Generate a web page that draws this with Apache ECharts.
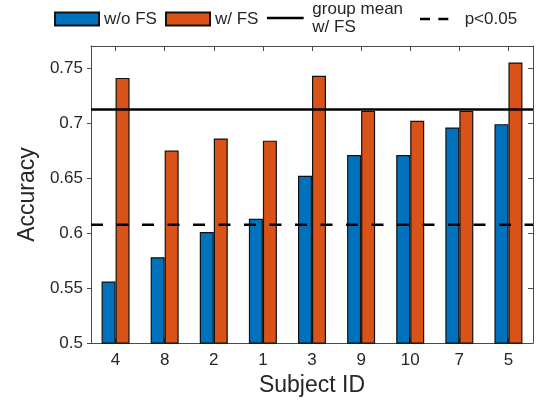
<!DOCTYPE html>
<html>
<head>
<meta charset="utf-8">
<script src="https://cdn.jsdelivr.net/npm/echarts@6/dist/echarts.min.js"></script>
<style>html,body{margin:0;padding:0;background:#fff;}#c{width:546px;height:402px;}</style>
</head>
<body>
<div id="c"></div>
<script>
const subjects = ['4', '8', '2', '1', '3', '9', '10', '7', '5'];
const withoutFS = [0.556, 0.578, 0.601, 0.613, 0.652, 0.671, 0.671, 0.696, 0.699];
const withFS = [0.741, 0.675, 0.686, 0.684, 0.743, 0.711, 0.702, 0.711, 0.755];
const groupMean = 0.7122;
const pThreshold = 0.6075;
const yTicks = [0.5, 0.77, 0.05]; // min, max, interval

const FONT = "'Liberation Sans', Arial, Helvetica, sans-serif";
const TXT = '#262626';
const AX = '#4a4a4a';

const chart = echarts.init(document.getElementById('c'), null, {renderer: 'canvas'});

function legendAt(name, left, top, opts) {
  return Object.assign({
    data: [name], left: left, top: top, orient: 'horizontal',
    itemWidth: 44, itemHeight: 13, itemGap: 0, padding: 0,
    selectedMode: false,
    textStyle: {fontFamily: FONT, fontSize: 17, color: TXT, lineHeight: 18}
  }, opts || {});
}

chart.setOption({
  animation: false,
  backgroundColor: '#fff',
  grid: {left: 91, right: 13, top: 46, bottom: 57, show: false},
  legend: [
    legendAt('w/o FS', 54, 10, {icon: 'rect'}),
    legendAt('w/ FS', 165, 10, {icon: 'rect'}),
    legendAt('group mean\nw/ FS', 267, 0, {icon: 'path://M0,0H44V3H0Z', itemHeight: 2.5}),
    legendAt('p<0.05', 420, 10, {icon: 'path://M0,0H12V3H0Z M22,0H34V3H22Z', itemWidth: 33, itemHeight: 2.5,
      textStyle: {fontFamily: FONT, fontSize: 17, color: TXT, lineHeight: 18, padding: [0, 0, 0, 9]}})
  ],
  xAxis: [
    {
      type: 'category', data: subjects, position: 'bottom',
      axisLine: {show: true, lineStyle: {color: AX, width: 1}},
      axisTick: {show: true, inside: true, alignWithLabel: true, length: 5, lineStyle: {color: AX}},
      axisLabel: {fontFamily: FONT, fontSize: 17, color: TXT, margin: 9},
      name: 'Subject ID', nameLocation: 'middle', nameGap: 30,
      nameTextStyle: {fontFamily: FONT, fontSize: 23, color: TXT}
    },
    {
      type: 'category', data: subjects, position: 'top',
      axisLine: {show: true, lineStyle: {color: AX, width: 1}},
      axisTick: {show: true, inside: true, alignWithLabel: true, length: 5, lineStyle: {color: AX}},
      axisLabel: {show: false}
    },
    {type: 'value', min: 0, max: 1, show: false}
  ],
  yAxis: [
    {
      type: 'value', min: yTicks[0], max: yTicks[1], interval: yTicks[2], position: 'left',
      axisLine: {show: true, lineStyle: {color: AX, width: 1}},
      axisTick: {show: true, inside: false, length: 4, lineStyle: {color: AX}},
      axisLabel: {fontFamily: FONT, fontSize: 17, color: TXT, margin: 8, showMaxLabel: false},
      splitLine: {show: false},
      name: 'Accuracy', nameLocation: 'middle', nameGap: 48,
      nameTextStyle: {fontFamily: FONT, fontSize: 23, color: TXT}
    },
    {
      type: 'value', min: yTicks[0], max: yTicks[1], interval: yTicks[2], position: 'right',
      axisLine: {show: true, lineStyle: {color: AX, width: 1}},
      axisTick: {show: true, inside: true, length: 5, lineStyle: {color: AX}},
      axisLabel: {show: false},
      splitLine: {show: false}
    }
  ],
  series: [
    {
      name: 'w/o FS', type: 'bar', xAxisIndex: 0, yAxisIndex: 0, data: withoutFS,
      barWidth: 14, barGap: '0%',
      itemStyle: {color: '#0072BD', borderColor: '#111', borderWidth: 1.2}
    },
    {
      name: 'w/ FS', type: 'bar', xAxisIndex: 0, yAxisIndex: 0, data: withFS,
      barWidth: 14, barGap: '0%',
      itemStyle: {color: '#D95319', borderColor: '#111', borderWidth: 1.2}
    },
    {
      name: 'group mean\nw/ FS', type: 'line', xAxisIndex: 2, yAxisIndex: 0,
      data: [[0, groupMean], [1, groupMean]], symbol: 'none', showSymbol: false,
      itemStyle: {color: '#000'},
      lineStyle: {color: '#000', width: 2.5, type: 'solid'}, z: 5
    },
    {
      name: 'p<0.05', type: 'line', xAxisIndex: 2, yAxisIndex: 0,
      data: [[0, pThreshold], [1, pThreshold]], symbol: 'none', showSymbol: false,
      itemStyle: {color: '#000'},
      lineStyle: {color: '#000', width: 2.5, type: [12, 13.5]}, z: 5
    }
  ]
});
</script>
</body>
</html>
